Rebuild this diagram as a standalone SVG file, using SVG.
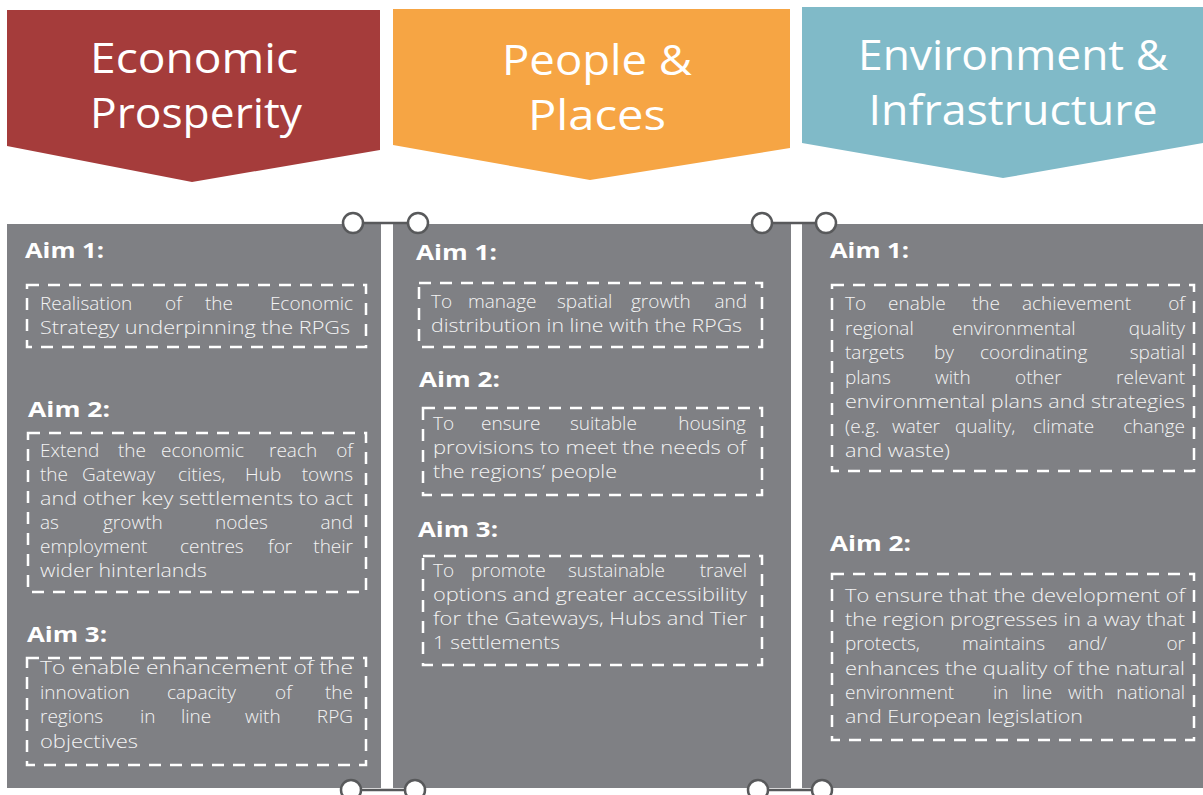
<svg xmlns="http://www.w3.org/2000/svg" width="1203" height="795" viewBox="0 0 1203 795">
  <style>
    .hdr { font-family: "Open Sans", "Liberation Sans", sans-serif; font-size: 42px; fill: #ffffff; text-anchor: middle; }
    .panel { fill: #7f8084; }
    .aim { font-family: "Open Sans", "Liberation Sans", sans-serif; font-weight: 700; font-size: 22px; fill: #ffffff; }
    .box { fill: none; stroke: #ffffff; stroke-width: 2.5; stroke-dasharray: 12 9; }
    .body { font-family: "Open Sans", "Liberation Sans", sans-serif; font-weight: 300; font-size: 19px; fill: #f4f4f4; }
    .end { text-anchor: end; }
    .link { stroke: #58595b; stroke-width: 2.5; fill: none; }
    .knob { fill: #ffffff; stroke: #58595b; stroke-width: 2.5; }
  </style>
  <rect width="1203" height="795" fill="#ffffff"/>

  <!-- Pillar headers -->
  <g id="header-economic">
    <polygon points="7,10 380,10 380,150 192,182 7,146" fill="#a53c3b"/>
    <text class="hdr" x="194" y="73" textLength="208" lengthAdjust="spacingAndGlyphs">Economic</text>
    <text class="hdr" x="196" y="128" textLength="212" lengthAdjust="spacingAndGlyphs">Prosperity</text>
  </g>
  <g id="header-people">
    <polygon points="393,9 790,9 790,148 590,180 393,145" fill="#f6a544"/>
    <text class="hdr" x="597" y="75" textLength="190" lengthAdjust="spacingAndGlyphs">People &amp;</text>
    <text class="hdr" x="597" y="130" textLength="138" lengthAdjust="spacingAndGlyphs">Places</text>
  </g>
  <g id="header-environment">
    <polygon points="802,7 1203,7 1203,143 1003,178 802,143" fill="#80bac8"/>
    <text class="hdr" x="1013" y="70" textLength="310" lengthAdjust="spacingAndGlyphs">Environment &amp;</text>
    <text class="hdr" x="1013" y="125" textLength="289" lengthAdjust="spacingAndGlyphs">Infrastructure</text>
  </g>

  <!-- Economic Prosperity aims -->
  <g id="panel-economic">
    <rect class="panel" x="7" y="224" width="374" height="564"/>
    <text class="aim" x="25" y="258" textLength="79" lengthAdjust="spacingAndGlyphs">Aim 1:</text>
    <rect class="box" x="27" y="285" width="339" height="62"/>
    <text class="body" y="310"><tspan x="40">Realisation</tspan><tspan x="165">of</tspan><tspan x="205">the</tspan><tspan x="353" class="end">Economic</tspan></text>
    <text class="body" x="40" y="334" textLength="310" lengthAdjust="spacingAndGlyphs">Strategy underpinning the RPGs</text>

    <text class="aim" x="28" y="417" textLength="82" lengthAdjust="spacingAndGlyphs">Aim 2:</text>
    <rect class="box" x="28" y="433" width="338" height="159"/>
    <text class="body" y="457"><tspan x="40">Extend</tspan><tspan x="118">the</tspan><tspan x="161">economic</tspan><tspan x="269">reach</tspan><tspan x="353" class="end">of</tspan></text>
    <text class="body" y="481"><tspan x="40">the</tspan><tspan x="82">Gateway</tspan><tspan x="178">cities,</tspan><tspan x="245">Hub</tspan><tspan x="353" class="end">towns</tspan></text>
    <text class="body" x="40" y="505" textLength="313" lengthAdjust="spacingAndGlyphs">and other key settlements to act</text>
    <text class="body" y="529"><tspan x="40">as</tspan><tspan x="103">growth</tspan><tspan x="215">nodes</tspan><tspan x="353" class="end">and</tspan></text>
    <text class="body" y="553"><tspan x="40">employment</tspan><tspan x="180">centres</tspan><tspan x="268">for</tspan><tspan x="353" class="end">their</tspan></text>
    <text class="body" x="40" y="577" textLength="167" lengthAdjust="spacingAndGlyphs">wider hinterlands</text>

    <text class="aim" x="27" y="642" textLength="80" lengthAdjust="spacingAndGlyphs">Aim 3:</text>
    <rect class="box" x="27" y="658" width="339" height="107"/>
    <text class="body" x="40" y="674" textLength="313" lengthAdjust="spacingAndGlyphs">To enable enhancement of the</text>
    <text class="body" y="699"><tspan x="40">innovation</tspan><tspan x="167">capacity</tspan><tspan x="275">of</tspan><tspan x="353" class="end">the</tspan></text>
    <text class="body" y="723"><tspan x="40">regions</tspan><tspan x="140">in</tspan><tspan x="181">line</tspan><tspan x="245">with</tspan><tspan x="353" class="end">RPG</tspan></text>
    <text class="body" x="40" y="748" textLength="98" lengthAdjust="spacingAndGlyphs">objectives</text>
  </g>

  <!-- People & Places aims -->
  <g id="panel-people">
    <rect class="panel" x="393" y="224" width="398" height="564"/>
    <text class="aim" x="416" y="260" textLength="81" lengthAdjust="spacingAndGlyphs">Aim 1:</text>
    <rect class="box" x="419" y="283" width="343" height="64"/>
    <text class="body" y="308"><tspan x="431">To</tspan><tspan x="468">manage</tspan><tspan x="557">spatial</tspan><tspan x="631">growth</tspan><tspan x="747" class="end">and</tspan></text>
    <text class="body" x="431" y="332" textLength="311" lengthAdjust="spacingAndGlyphs">distribution in line with the RPGs</text>

    <text class="aim" x="419" y="387" textLength="81" lengthAdjust="spacingAndGlyphs">Aim 2:</text>
    <rect class="box" x="423" y="408" width="339" height="87"/>
    <text class="body" y="430"><tspan x="433">To</tspan><tspan x="481">ensure</tspan><tspan x="570">suitable</tspan><tspan x="746" class="end">housing</tspan></text>
    <text class="body" x="433" y="454" textLength="313" lengthAdjust="spacingAndGlyphs">provisions to meet the needs of</text>
    <text class="body" x="433" y="478" textLength="184" lengthAdjust="spacingAndGlyphs">the regions’ people</text>

    <text class="aim" x="418" y="537" textLength="80" lengthAdjust="spacingAndGlyphs">Aim 3:</text>
    <rect class="box" x="423" y="556" width="339" height="109"/>
    <text class="body" y="577"><tspan x="433">To</tspan><tspan x="471">promote</tspan><tspan x="568">sustainable</tspan><tspan x="747" class="end">travel</tspan></text>
    <text class="body" x="433" y="601" textLength="314" lengthAdjust="spacingAndGlyphs">options and greater accessibility</text>
    <text class="body" x="433" y="625" textLength="314" lengthAdjust="spacingAndGlyphs">for the Gateways, Hubs and Tier</text>
    <text class="body" x="433" y="649" textLength="127" lengthAdjust="spacingAndGlyphs">1 settlements</text>
  </g>

  <!-- Environment & Infrastructure aims -->
  <g id="panel-environment">
    <rect class="panel" x="802" y="224" width="401" height="564"/>
    <text class="aim" x="830" y="258" textLength="79" lengthAdjust="spacingAndGlyphs">Aim 1:</text>
    <rect class="box" x="832" y="285" width="362" height="186"/>
    <text class="body" y="310"><tspan x="845">To</tspan><tspan x="888">enable</tspan><tspan x="972">the</tspan><tspan x="1022">achievement</tspan><tspan x="1185" class="end">of</tspan></text>
    <text class="body" y="334.5"><tspan x="845">regional</tspan><tspan x="952">environmental</tspan><tspan x="1185" class="end">quality</tspan></text>
    <text class="body" y="359"><tspan x="845">targets</tspan><tspan x="934">by</tspan><tspan x="980">coordinating</tspan><tspan x="1185" class="end">spatial</tspan></text>
    <text class="body" y="383.5"><tspan x="845">plans</tspan><tspan x="935">with</tspan><tspan x="1015">other</tspan><tspan x="1185" class="end">relevant</tspan></text>
    <text class="body" x="845" y="408" textLength="340" lengthAdjust="spacingAndGlyphs">environmental plans and strategies</text>
    <text class="body" y="432.5"><tspan x="845">(e.g.</tspan><tspan x="892">water</tspan><tspan x="955">quality,</tspan><tspan x="1033">climate</tspan><tspan x="1185" class="end">change</tspan></text>
    <text class="body" x="845" y="457" textLength="105" lengthAdjust="spacingAndGlyphs">and waste)</text>

    <text class="aim" x="830" y="551" textLength="81" lengthAdjust="spacingAndGlyphs">Aim 2:</text>
    <rect class="box" x="832" y="574" width="362" height="166"/>
    <text class="body" x="845" y="602" textLength="340" lengthAdjust="spacingAndGlyphs">To ensure that the development of</text>
    <text class="body" x="845" y="626" textLength="340" lengthAdjust="spacingAndGlyphs">the region progresses in a way that</text>
    <text class="body" y="650"><tspan x="845">protects,</tspan><tspan x="962">maintains</tspan><tspan x="1068">and/</tspan><tspan x="1185" class="end">or</tspan></text>
    <text class="body" x="845" y="675" textLength="340" lengthAdjust="spacingAndGlyphs">enhances the quality of the natural</text>
    <text class="body" y="699"><tspan x="845">environment</tspan><tspan x="993">in</tspan><tspan x="1022">line</tspan><tspan x="1068">with</tspan><tspan x="1185" class="end">national</tspan></text>
    <text class="body" x="845" y="723" textLength="238" lengthAdjust="spacingAndGlyphs">and European legislation</text>
  </g>

  <!-- Links joining neighbouring panels -->
  <g id="connectors">
    <line class="link" x1="353" y1="223" x2="418" y2="223"/>
    <circle class="knob" cx="353" cy="223" r="10"/>
    <circle class="knob" cx="418" cy="223" r="10"/>
    <line class="link" x1="762" y1="223" x2="826" y2="223"/>
    <circle class="knob" cx="762" cy="223" r="10"/>
    <circle class="knob" cx="826" cy="223" r="10"/>
    <line class="link" x1="351" y1="790" x2="415" y2="790"/>
    <circle class="knob" cx="351" cy="790" r="10"/>
    <circle class="knob" cx="415" cy="790" r="10"/>
    <line class="link" x1="758" y1="790" x2="822" y2="790"/>
    <circle class="knob" cx="758" cy="790" r="10"/>
    <circle class="knob" cx="822" cy="790" r="10"/>
  </g>
</svg>
